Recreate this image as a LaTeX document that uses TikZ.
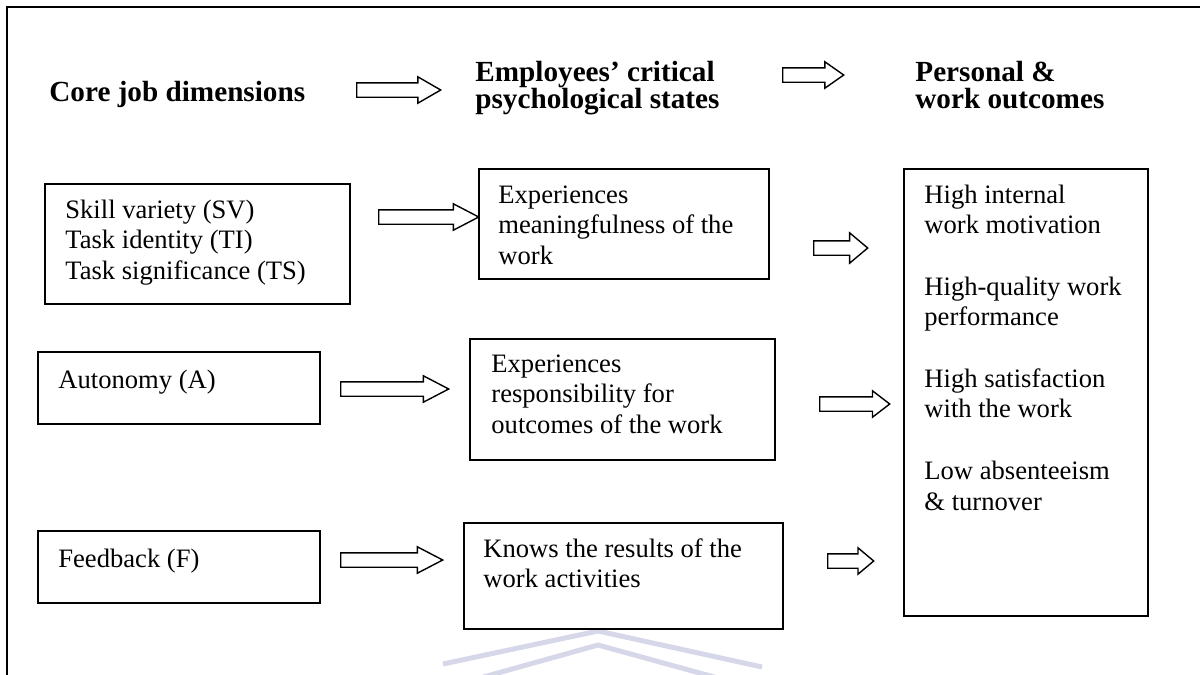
\documentclass[tikz,border=0pt]{standalone}
\usepackage{fontspec}
\setmainfont{Liberation Serif}
\usetikzlibrary{shapes.arrows}

\newcommand\lines[1]{\begin{tabular}[t]{@{}l@{}}#1\end{tabular}}
\definecolor{crest}{RGB}{214,216,234}
\tikzset{
  box/.style={rectangle, draw, line width=1pt, anchor=north west, inner sep=0pt},
  heading/.style={font=\fontsize{14.6}{13.3}\selectfont\bfseries, align=left, anchor=base west, inner sep=0pt},
  txt/.style={font=\fontsize{13.3}{15.35}\selectfont, anchor=base west, inner sep=0pt},
  fat/.style={single arrow, draw, anchor=tail, line width=0.7pt, inner xsep=0pt, inner ysep=3.25pt,
    minimum width=12.5pt, single arrow head extend=3pt, single arrow tip angle=60}
}

\begin{document}
\begin{tikzpicture}[x=0.5pt, y=-0.5pt]
            \useasboundingbox (0,0) rectangle (1200,675);
            \draw [line width=1.3pt] (7,690) -- (7,7) -- (1210,7);
            \draw [crest, line width=2.5pt] (443,664) -- (598,631) -- (762,667);
            \draw [crest, line width=2.5pt] (480,678) -- (598,645) -- (725,680);

            \node [heading] (core) at (49,101) {Core job dimensions};
            \node [heading] (states) at (475,108) {Employees’ critical\\psychological states};
            \node [heading] (outcomes) at (915,108) {Personal \&\\work outcomes};

            \node [box, minimum width=152.5pt, minimum height=60pt] (sv) at (44,183) {};
            \node [box, minimum width=145pt, minimum height=55pt] (mean) at (478,168) {};
            \node [box, minimum width=122pt, minimum height=223.5pt] (result) at (903,168) {};
            \node [box, minimum width=141pt, minimum height=36pt] (auto) at (37,351) {};
            \node [box, minimum width=152.5pt, minimum height=60.5pt] (resp) at (469,338) {};
            \node [box, minimum width=141pt, minimum height=36pt] (feed) at (37,530) {};
            \node [box, minimum width=159.5pt, minimum height=53pt] (know) at (463,522) {};

            \node [txt] (svtext) at (65,218) {\lines{Skill variety (SV)\\Task identity (TI)\\Task significance (TS)}};
            \node [txt] (meantext) at (498,203) {\lines{Experiences\\meaningfulness of the\\work}};
            \node [txt] (resulttext) at (924,203) {\lines{High internal\\work motivation\\[15.35pt]High-quality work\\performance\\[15.35pt]High satisfaction\\with the work\\[15.35pt]Low absenteeism\\\& turnover}};
            \node [txt] (autotext) at (58,388) {Autonomy (A)};
            \node [txt] (resptext) at (491,372) {\lines{Experiences\\responsibility for\\outcomes of the work}};
            \node [txt] (feedtext) at (58,567) {Feedback (F)};
            \node [txt] (knowtext) at (483,557) {\lines{Knows the results of the\\work activities}};

            \node [fat, minimum height=42pt] (a1) at (356,90) {};
            \node [fat, minimum height=30.5pt, single arrow tip angle=70] (a2) at (782,75) {};
            \node [fat, minimum height=50pt, single arrow tip angle=55] (a3) at (378,217) {};
            \node [fat, minimum height=27pt, minimum width=14.5pt, single arrow head extend=4pt, single arrow tip angle=80] (a4) at (813,248) {};
            \node [fat, minimum height=54pt, single arrow tip angle=55] (a5) at (340,389) {};
            \node [fat, minimum height=51pt, single arrow tip angle=55] (a6) at (340,560) {};
            \node [fat, minimum height=35pt, single arrow tip angle=75] (a7) at (819,404) {};
            \node [fat, minimum height=23pt, single arrow tip angle=80] (a8) at (827,561) {};
        \end{tikzpicture}
\end{document}
